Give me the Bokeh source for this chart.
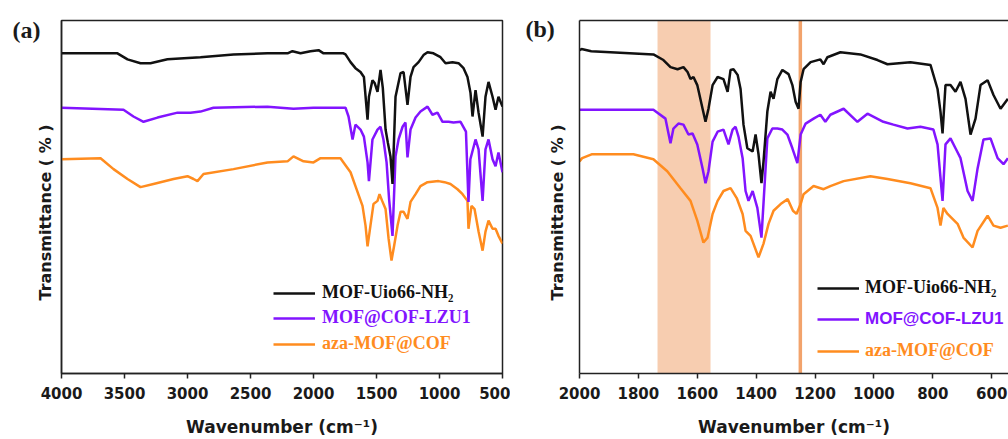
from bokeh.plotting import figure
from bokeh.models import (Range1d, FixedTicker, Legend, LegendItem, Title,
                          BoxAnnotation, Span, LinearAxis)
from bokeh.layouts import row
from bokeh.embed import file_html
from bokeh.resources import INLINE

# ---------------- data (panel a: 4000-500 cm-1) ----------------
A_BLACK_WN = [4000, 3556, 3476, 3373, 3294, 3159, 2897, 2635, 2365, 2206, 2167, 2103, 2024, 1960, 1920,
              1762, 1746, 1706, 1667, 1627, 1600, 1571, 1560, 1532, 1515, 1492, 1468, 1450, 1428, 1410,
              1389, 1373, 1349, 1309, 1285, 1254, 1230, 1206, 1166, 1127, 1095, 1048, 992, 952, 897,
              849, 809, 778, 754, 738, 714, 690, 658, 635, 611, 579, 555, 532, 500]
A_BLACK_T = [90.7, 90.7, 89.0, 87.9, 87.9, 89.0, 89.6, 90.4, 90.7, 90.7, 91.3, 90.7, 91.3, 91.6, 90.7,
             90.7, 90.4, 88.2, 86.5, 85.4, 84.0, 71.9, 78.4, 83.1, 82.3, 79.8, 86.0, 80.9, 69.1, 65.4,
             61.5, 53.7, 78.4, 85.1, 85.4, 76.1, 84.0, 86.8, 88.2, 90.2, 91.0, 90.7, 89.6, 87.9, 88.2,
             87.9, 86.5, 84.0, 79.5, 72.8, 80.3, 73.9, 67.1, 78.4, 82.6, 78.4, 74.7, 78.4, 75.6]

A_PURPLE_WN = [4000, 3508, 3429, 3349, 3238, 3079, 2976, 2897, 2794, 2365, 2159, 2000, 1746, 1722, 1690,
               1667, 1627, 1600, 1571, 1560, 1532, 1492, 1468, 1445, 1420, 1400, 1373, 1349, 1325, 1293,
               1270, 1254, 1230, 1190, 1151, 1095, 1056, 1016, 976, 928, 889, 833, 790, 770, 755,
               714, 690, 658, 635, 611, 579, 555, 532, 500]
A_PURPLE_T = [75.3, 74.7, 72.8, 71.3, 72.5, 73.9, 73.9, 74.2, 75.3, 75.6, 75.0, 75.3, 75.3, 72.8, 66.3,
              70.5, 69.1, 67.1, 59.8, 54.5, 66.3, 69.1, 69.9, 66.3, 59.8, 49.4, 39.0, 61.5, 66.3, 69.9,
              71.1, 61.2, 69.1, 72.5, 74.2, 75.6, 73.3, 73.9, 71.3, 71.3, 71.1, 71.3, 68.5, 48.6, 60.7,
              66.3, 63.5, 48.9, 63.5, 66.3, 60.7, 58.7, 62.6, 57.0]

A_ORANGE_WN = [4000, 3690, 3587, 3476, 3373, 3270, 3111, 3000, 2952, 2921, 2873, 2635, 2365, 2206, 2159,
               2079, 2000, 1944, 1786, 1762, 1706, 1667, 1611, 1587, 1571, 1548, 1524, 1492, 1476, 1455,
               1428, 1404, 1381, 1360, 1333, 1309, 1285, 1254, 1230, 1190, 1151, 1095, 1008, 960, 913,
               857, 817, 778, 770, 746, 722, 690, 658, 635, 611, 579, 555, 532, 500]
A_ORANGE_T = [60.7, 61.0, 57.9, 55.1, 52.8, 53.7, 55.1, 55.9, 55.1, 54.5, 56.5, 57.9, 59.8, 60.1, 61.5,
              60.1, 59.8, 61.0, 61.0, 59.8, 57.0, 53.1, 47.5, 41.9, 36.0, 41.9, 48.0, 48.9, 50.8, 48.9,
              46.6, 38.2, 32.0, 36.2, 41.9, 45.8, 45.8, 43.8, 48.6, 50.8, 53.1, 54.2, 54.5, 54.2, 53.7,
              52.2, 50.8, 48.9, 41.0, 47.5, 46.6, 40.2, 34.8, 40.2, 43.3, 41.0, 41.0, 39.0, 36.8]

# ---------------- data (panel b: 2000-400 cm-1) ----------------
B_BLACK_WN = [2000, 1993, 1960, 1749, 1715, 1691, 1667, 1647, 1633, 1623, 1613, 1600, 1582, 1572, 1562,
              1548, 1531, 1511, 1497, 1487, 1477, 1463, 1453, 1443, 1430, 1412, 1402, 1392, 1382, 1375,
              1362, 1351, 1341, 1328, 1311, 1290, 1277, 1266, 1256, 1249, 1239, 1215, 1182, 1171, 1158,
              1114, 1046, 988, 954, 876, 808, 784, 774, 767, 757, 740, 723, 706, 689, 672,
              655, 638, 614, 594, 570, 545]
B_BLACK_T = [91.6, 91.9, 91.3, 90.4, 88.8, 86.8, 86.2, 86.8, 85.4, 83.4, 84.0, 81.7, 75.0, 71.3, 75.0,
             81.7, 84.0, 83.4, 79.8, 86.0, 86.2, 84.6, 80.6, 70.5, 63.8, 62.9, 67.7, 62.1, 53.9, 60.1,
             74.2, 79.8, 77.8, 83.4, 86.0, 84.8, 81.7, 77.0, 75.0, 82.6, 86.2, 88.2, 89.0, 87.6, 89.6,
             91.0, 90.4, 88.8, 87.6, 88.2, 87.4, 80.6, 74.2, 68.0, 81.7, 81.7, 79.8, 82.6, 77.8, 67.7,
             72.2, 81.7, 83.1, 78.9, 75.0, 77.8]

B_PURPLE_WN = [2000, 1749, 1708, 1691, 1681, 1664, 1647, 1630, 1616, 1600, 1582, 1572, 1562, 1548, 1531,
               1511, 1494, 1480, 1470, 1460, 1446, 1436, 1426, 1412, 1396, 1382, 1362, 1345, 1328, 1311,
               1294, 1277, 1260, 1249, 1232, 1205, 1182, 1165, 1148, 1103, 1056, 1022, 968, 934, 886,
               842, 798, 784, 767, 757, 740, 723, 706, 682, 665, 648, 628, 604, 580, 560, 545]
B_PURPLE_T = [74.7, 74.7, 72.2, 65.2, 69.4, 70.8, 70.5, 67.7, 68.0, 64.9, 58.1, 53.9, 57.3, 65.7, 68.5,
              69.1, 64.9, 69.1, 69.9, 67.1, 61.0, 51.7, 48.9, 51.7, 46.9, 38.5, 66.6, 69.4, 69.4, 69.1,
              67.7, 63.8, 59.6, 67.7, 70.8, 72.2, 73.3, 71.3, 73.3, 75.0, 71.3, 73.6, 71.3, 70.5, 69.4,
              69.9, 69.1, 64.9, 48.9, 64.9, 66.6, 63.8, 61.0, 51.7, 48.9, 58.1, 66.3, 66.6, 61.0, 59.3, 61.0]

B_ORANGE_WN = [2000, 1991, 1959, 1817, 1749, 1702, 1657, 1623, 1600, 1579, 1565, 1548, 1531, 1511, 1487,
               1466, 1446, 1436, 1419, 1392, 1375, 1358, 1341, 1317, 1293, 1275, 1263, 1249, 1239, 1205,
               1171, 1148, 1103, 1012, 954, 876, 808, 784, 774, 764, 750, 716, 696, 665, 648,
               614, 594, 570, 545]
B_ORANGE_T = [60.1, 61.0, 62.1, 62.1, 60.7, 57.3, 52.5, 48.9, 43.3, 37.1, 38.5, 45.2, 48.9, 51.7, 52.5,
              49.7, 45.2, 40.4, 39.0, 32.9, 36.8, 42.4, 46.1, 48.0, 49.4, 46.1, 45.2, 48.0, 50.8, 53.1,
              52.2, 53.1, 54.5, 55.9, 55.1, 53.9, 52.5, 46.9, 41.9, 46.9, 45.2, 42.4, 38.5, 35.7, 40.4,
              44.7, 41.9, 41.3, 41.9]

A_TICKS = [4000, 3500, 3000, 2500, 2000, 1500, 1000, 500]
B_TICKS = [2000, 1800, 1600, 1400, 1200, 1000, 800, 600]
NAMES = ["MOF-Uio66-NH\u2082", "MOF@COF-LZU1", "aza-MOF@COF"]
Y_TITLE = "Transmittance ( % )"
SHADE_BAND = (1735, 1555)
MARK_LINE = 1250

# ---------------- styling ----------------
SANS = "DejaVu Sans"
ARIAL = "Liberation Sans"
SERIF = "Liberation Serif"
BLACK = "#111111"
PURPLE = "#8214ff"
ORANGE = "#ff8c1f"
TXT = "#1a1a1a"


def base_axes(p, ticks, ylab_standoff):
    p.xgrid.visible = False
    p.ygrid.visible = False
    xa = p.xaxis[0]
    xa.ticker = FixedTicker(ticks=ticks)
    xa.major_tick_out = 5
    xa.major_tick_in = 0
    xa.minor_tick_out = 0
    xa.minor_tick_in = 0
    xa.axis_line_width = 1.5
    xa.major_tick_line_width = 1.5
    xa.axis_line_color = "#222222"
    xa.major_tick_line_color = "#222222"
    xa.major_label_text_font = SANS
    xa.major_label_text_font_style = "bold"
    xa.major_label_text_font_size = "15px"
    xa.major_label_text_color = TXT
    xa.major_label_standoff = 8
    xa.axis_label = "Wavenumber (cm\u207b\u00b9)"
    xa.axis_label_text_font = SANS
    xa.axis_label_text_font_style = "bold"
    xa.axis_label_text_font_size = "17px"
    xa.axis_label_text_color = TXT
    xa.axis_label_standoff = 15
    ya = p.yaxis[0]
    ya.ticker = FixedTicker(ticks=[])
    ya.major_tick_out = 0
    ya.minor_tick_out = 0
    ya.axis_line_width = 1.5
    ya.axis_line_color = "#222222"
    ya.axis_label = None
    # y title as a side-panel title, so it can sit where the reference has it
    p.add_layout(Title(text=Y_TITLE, align="left", offset=73, standoff=ylab_standoff,
                       text_font=SANS, text_font_style="bold", text_font_size="16px",
                       text_color=TXT), "left")


def panel_title(p, text, offset, standoff):
    # a leading blank line lets the single visible line sit beside the frame's top edge
    p.title.text = "\n" + text
    p.title.align = "left"
    p.title.offset = offset
    p.title.standoff = standoff
    p.title.text_font = SERIF
    p.title.text_font_style = "bold"
    p.title.text_font_size = "24px"
    p.title.text_color = TXT


def add_legend(p, renderer, name, color, font, size, vx, vy, standoff):
    leg = Legend(items=[LegendItem(label=name, renderers=[renderer])],
                 location=(vx, vy), padding=0, margin=0, spacing=0,
                 glyph_width=42, glyph_height=20, label_height=20,
                 label_standoff=standoff, border_line_color=None,
                 background_fill_alpha=0,
                 label_text_font=font, label_text_font_style="bold",
                 label_text_font_size=size, label_text_color=color)
    p.add_layout(leg)


# ---------------- panel (a) ----------------
pa = figure(width=510, height=439, x_range=Range1d(4000, 500), y_range=Range1d(0, 100),
            output_backend="svg", toolbar_location=None,
            min_border_left=61, min_border_right=8, min_border_top=20, min_border_bottom=63)
base_axes(pa, A_TICKS, 14)
panel_title(pa, "(a)", -49, -44)
pa.outline_line_color = "#222222"
pa.outline_line_width = 1.5
pa.outline_line_alpha = 1.0

ra_o = pa.line(A_ORANGE_WN, A_ORANGE_T, line_color=ORANGE, line_width=2.5)
ra_p = pa.line(A_PURPLE_WN, A_PURPLE_T, line_color=PURPLE, line_width=2.5)
ra_b = pa.line(A_BLACK_WN, A_BLACK_T, line_color=BLACK, line_width=2.5)

add_legend(pa, ra_b, NAMES[0], BLACK, SERIF, "18px", 212, 70, 7)
add_legend(pa, ra_p, NAMES[1], PURPLE, SERIF, "18px", 212, 45, 7)
add_legend(pa, ra_o, NAMES[2], ORANGE, SERIF, "18px", 212, 19, 7)

# ---------------- panel (b) ----------------
pb = figure(width=498, height=439, x_range=Range1d(2000, 543), y_range=Range1d(0, 100),
            output_backend="svg", toolbar_location=None,
            min_border_left=69, min_border_right=0, min_border_top=18, min_border_bottom=65)
base_axes(pb, B_TICKS, 26)
panel_title(pb, "(b)", -54, -42)
pb.outline_line_color = None
top_axis = LinearAxis(ticker=FixedTicker(ticks=[]), major_tick_out=0, minor_tick_out=0,
                      axis_line_width=1.5, axis_line_color="#222222")
pb.add_layout(top_axis, "above")

pb.add_layout(BoxAnnotation(left=SHADE_BAND[0], right=SHADE_BAND[1], fill_color="#f7cdb0",
                            fill_alpha=1.0, line_color=None, level="underlay"))
pb.add_layout(Span(location=MARK_LINE, dimension="height", line_color="#f2a36c",
                   line_width=3.5, level="underlay"))

rb_o = pb.line(B_ORANGE_WN, B_ORANGE_T, line_color=ORANGE, line_width=2.5)
rb_p = pb.line(B_PURPLE_WN, B_PURPLE_T, line_color=PURPLE, line_width=2.5)
rb_b = pb.line(B_BLACK_WN, B_BLACK_T, line_color=BLACK, line_width=2.5)

add_legend(pb, rb_b, NAMES[0], BLACK, SERIF, "18px", 238, 75, 6)
add_legend(pb, rb_p, NAMES[1], PURPLE, ARIAL, "17px", 238, 44, 6)
add_legend(pb, rb_o, NAMES[2], ORANGE, SERIF, "18px", 238, 12, 6)

layout = row(pa, pb)
open("out.html", "w").write(file_html(layout, INLINE))
